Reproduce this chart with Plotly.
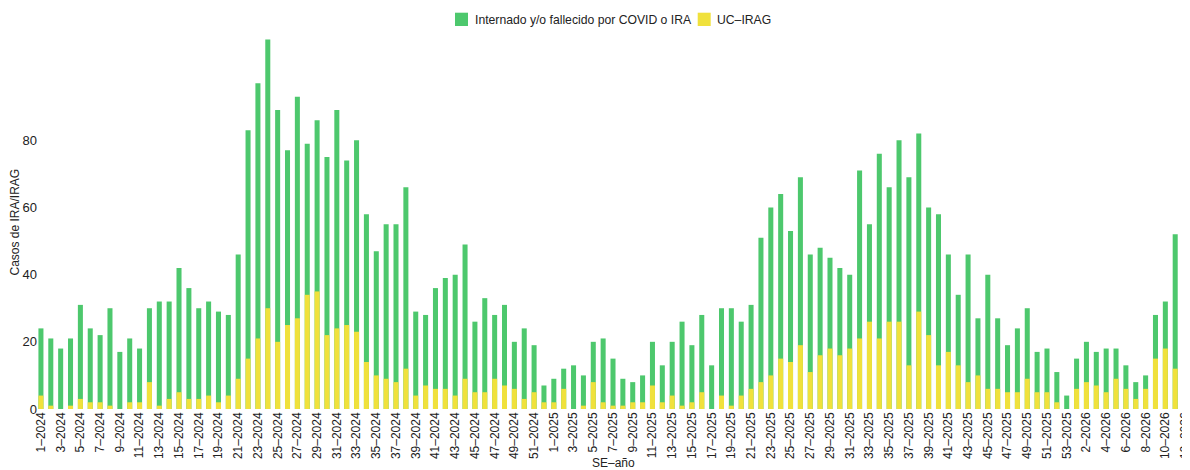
import plotly.graph_objects as go

# semanas epidemiologicas: 52 de 2024, 53 de 2025, 12 de 2026
semanas_2024 = [f"{s}–2024" for s in range(1, 53)]
semanas_2025 = [f"{s}–2025" for s in range(1, 54)]
semanas_2026 = [f"{s}–2026" for s in range(1, 13)]
semanas = semanas_2024 + semanas_2025 + semanas_2026

internado_2024 = [24, 21, 18, 21, 31, 24, 22, 30, 17, 21, 18, 30, 32, 32, 42, 36, 30, 32, 29, 28,
                  46, 83, 97, 110, 89, 77, 93, 79, 86, 75, 89, 74, 80, 58, 47, 55, 55, 66, 29, 28,
                  36, 39, 40, 49, 26, 33, 28, 31, 20, 24, 19, 7]
internado_2025 = [9, 12, 13, 10, 20, 21, 15, 9, 8, 10, 20, 13, 20, 26, 19, 28, 13, 30, 30, 26,
                  31, 51, 60, 64, 53, 69, 46, 48, 45, 42, 40, 71, 55, 76, 66, 80, 69, 82, 60, 58,
                  46, 34, 46, 27, 40, 27, 19, 24, 30, 17, 18, 11, 4]
internado_2026 = [15, 20, 17, 18, 18, 13, 8, 10, 28, 32, 52, 30]

uc_irag_2024 = [4, 1, 0, 1, 3, 2, 2, 1, 0, 2, 2, 8, 1, 3, 5, 3, 3, 4, 2, 4,
                9, 15, 21, 30, 20, 25, 27, 34, 35, 22, 24, 25, 23, 14, 10, 9, 8, 12, 4, 7,
                6, 6, 4, 9, 5, 5, 9, 7, 6, 3, 5, 2]
uc_irag_2025 = [2, 6, 0, 1, 8, 2, 1, 1, 2, 2, 7, 2, 4, 1, 2, 5, 0, 4, 1, 4,
                6, 8, 10, 15, 14, 19, 11, 16, 18, 16, 18, 21, 26, 21, 26, 26, 13, 29, 22, 13,
                17, 13, 8, 10, 6, 6, 5, 5, 9, 5, 5, 2, 0]
uc_irag_2026 = [6, 8, 7, 5, 9, 6, 3, 6, 15, 18, 12, 19]

internado = internado_2024 + internado_2025 + internado_2026
uc_irag = uc_irag_2024 + uc_irag_2025 + uc_irag_2026

VERDE = "#4dc86d"
AMARILLO = "#f0e13c"
W, H = 1190, 470
ML, MR, MT, MB = 28, 8, 28, 69


def px(x):
    # pixel horizontal de la figura -> coordenada paper
    return (x - ML) / (W - ML - MR)


def py(y):
    # pixel vertical de la figura -> coordenada paper
    return (H - MB - y) / (H - MT - MB)


fig = go.Figure()
fig.add_trace(go.Bar(x=semanas, y=internado, name="Internado y/o fallecido por COVID o IRA",
                     marker=dict(color=VERDE, line=dict(width=0))))
fig.add_trace(go.Bar(x=semanas, y=uc_irag, name="UC–IRAG",
                     marker=dict(color=AMARILLO, line=dict(width=0))))

# leyenda compacta arriba
for x0, color in [(447, VERDE), (689.7, AMARILLO)]:
    fig.add_shape(type="rect", xref="paper", yref="paper", x0=px(x0), x1=px(x0 + 13),
                  y0=py(4.7), y1=py(18), fillcolor=color, line=dict(width=0), layer="above")
fig.add_annotation(text="Internado y/o fallecido por COVID o IRA", xref="paper", yref="paper",
                   x=px(465), y=py(11.5), xanchor="left", yanchor="middle", showarrow=False,
                   font=dict(size=12.2))
fig.add_annotation(text="UC–IRAG", xref="paper", yref="paper",
                   x=px(707.3), y=py(11.5), xanchor="left", yanchor="middle", showarrow=False,
                   font=dict(size=12.2))
# titulos de ejes
fig.add_annotation(text="SE–año", xref="paper", yref="paper", x=0.5, y=py(455),
                   xanchor="center", yanchor="middle", showarrow=False, font=dict(size=12))
fig.add_annotation(text="Casos de IRA/IRAG", xref="paper", yref="paper", x=px(6), y=0.5,
                   xanchor="center", yanchor="middle", textangle=-90, showarrow=False,
                   font=dict(size=12))

fig.update_layout(
    width=W, height=H,
    barmode="overlay", bargap=0.49,
    plot_bgcolor="white", paper_bgcolor="white",
    font=dict(family="Liberation Sans, Arial, sans-serif", size=12, color="#222"),
    margin=dict(l=ML, r=MR, t=MT, b=MB),
    showlegend=False,
)
fig.update_xaxes(
    type="category", tickmode="array", tickvals=semanas[::2], ticktext=semanas[::2],
    tickangle=-90, showgrid=False, showline=False, zeroline=False, ticks="",
    automargin=False,
)
fig.update_yaxes(
    range=[0, 111.05], tickmode="array", tickvals=[0, 20, 40, 60, 80],
    showgrid=False, showline=False, zeroline=False, ticks="",
    tickfont=dict(size=13), ticklabelstandoff=-2,
    automargin=False,
)

fig.write_html("out.html")
